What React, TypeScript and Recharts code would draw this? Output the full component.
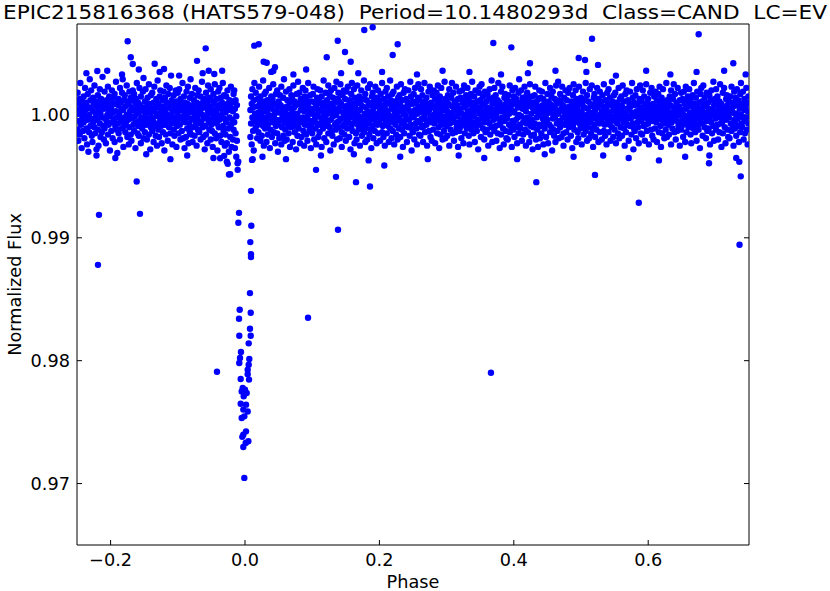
import { ScatterChart, Scatter, XAxis, YAxis, Label } from 'recharts';

// out-of-transit band: [phase, flux offset from 1 in ppt]
const bandA: [number, number][] = [
  [-.250,0.4],[-.249,-1.2],[-.249,1.8],[-.248,0.1],[-.248,-2.1],[-.247,0.9],[-.247,-0.5],[-.246,1.3],[-.246,-1.6],[-.245,0.2],[-.245,2.6],[-.244,-0.8],[-.243,0.6],[-.243,-2.7],[-.242,1.1],[-.242,-0.2],[-.241,-1.3],[-.241,0.7],
  [-.240,-0.6],[-.240,1.5],[-.239,0.3],[-.239,-1.9],[-.238,2.2],[-.238,-0.1],[-.237,0.8],[-.236,-1.1],[-.236,1.0],[-.235,-2.4],[-.235,0.5],[-.234,-0.4],[-.234,1.7],[-.233,-3.0],[-.232,0.0],[-.232,-1.4],[-.231,2.9],[-.231,0.6],
  [-.230,1.2],[-.230,-0.9],[-.229,-0.3],[-.229,2.0],[-.228,-1.7],[-.227,0.4],[-.227,-2.2],[-.226,1.4],[-.226,-0.6],[-.225,0.9],[-.224,-1.0],[-.224,2.4],[-.223,0.2],[-.223,-1.5],[-.222,-0.2],[-.221,1.1],[-.221,-2.8],[-.220,0.7],
  [-.220,-0.4],[-.219,1.6],[-.219,-1.2],[-.218,0.3],[-.218,-2.5],[-.217,0.9],[-.216,-0.7],[-.216,2.1],[-.215,-1.8],[-.215,0.1],[-.214,1.3],[-.213,-0.2],[-.213,-1.4],[-.212,0.6],[-.212,3.1],[-.211,-0.9],[-.211,1.0],[-.210,-2.0],
  [-.210,0.5],[-.209,-1.1],[-.209,1.9],[-.208,-0.3],[-.207,0.8],[-.207,-2.3],[-.206,1.2],[-.206,-0.5],[-.205,0.0],[-.204,2.3],[-.204,-1.6],[-.203,0.4],[-.203,-0.8],[-.202,1.5],[-.201,-2.9],[-.201,0.7],[-.200,-0.1],[-.200,1.1],
  [-.199,-1.3],[-.199,0.6],[-.198,2.0],[-.198,-0.6],[-.197,-1.9],[-.197,0.2],[-.196,1.4],[-.195,-0.4],[-.195,0.9],[-.194,-2.2],[-.194,1.7],[-.193,-0.9],[-.192,0.3],[-.192,2.7],[-.191,-1.2],[-.191,-0.2],[-.190,1.0],[-.190,-3.1],
  [-.189,0.8],[-.189,-0.7],[-.188,1.3],[-.188,-1.5],[-.187,0.1],[-.186,2.2],[-.186,-2.0],[-.185,-0.3],[-.185,1.0],[-.184,0.5],[-.183,-1.1],[-.183,1.8],[-.182,-0.5],[-.182,2.9],[-.181,-2.6],[-.181,0.4],[-.180,-0.9],[-.180,1.2],
  [-.179,-0.2],[-.179,1.6],[-.178,-1.4],[-.178,0.7],[-.177,-0.6],[-.176,2.4],[-.176,0.0],[-.175,-1.8],[-.175,1.1],[-.174,-0.4],[-.173,0.9],[-.173,-2.4],[-.172,1.9],[-.172,-1.0],[-.171,0.3],[-.171,-0.1],[-.170,1.4],[-.170,-1.6],
  [-.169,0.6],[-.169,-2.1],[-.168,1.2],[-.168,-0.3],[-.167,2.0],[-.166,-0.8],[-.166,0.4],[-.165,-1.3],[-.165,1.7],[-.164,-0.1],[-.163,-2.7],[-.163,0.9],[-.162,1.3],[-.162,-0.6],[-.161,0.1],[-.161,2.6],[-.160,-1.5],[-.160,0.5],
  [-.159,-0.9],[-.159,1.0],[-.158,-1.7],[-.158,0.2],[-.157,2.2],[-.156,-0.4],[-.156,0.8],[-.155,-2.3],[-.155,1.5],[-.154,-0.2],[-.153,0.6],[-.153,-1.1],[-.152,1.9],[-.152,-0.7],[-.151,3.0],[-.151,-1.9],[-.150,0.3],[-.150,-0.5],
  [-.149,1.1],[-.149,-1.4],[-.148,0.0],[-.148,2.1],[-.147,-0.8],[-.146,0.7],[-.146,-2.0],[-.145,1.4],[-.145,-0.3],[-.144,0.4],[-.143,-1.6],[-.143,2.5],[-.142,-0.6],[-.142,0.9],[-.141,-2.8],[-.141,0.2],[-.140,1.6],[-.140,-1.0],
  [-.139,0.5],[-.139,-0.2],[-.138,1.8],[-.138,-1.3],[-.137,-0.5],[-.136,1.0],[-.136,-2.2],[-.135,0.3],[-.135,2.3],[-.134,-0.9],[-.133,0.8],[-.133,-1.7],[-.132,1.3],[-.132,-0.1],[-.131,-2.5],[-.131,0.6],[-.130,2.8],[-.130,-0.7],
  [-.129,-1.2],[-.129,0.9],[-.128,0.1],[-.128,-1.8],[-.127,1.5],[-.126,-0.4],[-.126,2.0],[-.125,-0.9],[-.125,0.5],[-.124,-2.3],[-.123,1.2],[-.123,-0.2],[-.122,0.7],[-.122,-1.4],[-.121,1.9],[-.121,-0.6],[-.120,-2.9],[-.120,0.2],
  [-.119,1.4],[-.119,-0.8],[-.118,-1.6],[-.118,0.4],[-.117,2.4],[-.116,-0.3],[-.116,1.0],[-.115,-2.1],[-.115,0.0],[-.114,1.7],[-.113,-1.0],[-.113,0.6],[-.112,-0.5],[-.112,2.2],[-.111,-1.5],[-.111,0.8],[-.110,-0.1],[-.110,3.2],
  [-.109,-0.7],[-.109,1.2],[-.108,-2.4],[-.108,0.3],[-.107,0.9],[-.106,-1.2],[-.106,1.6],[-.105,-0.2],[-.105,-1.7],[-.104,0.5],[-.103,2.0],[-.103,-0.6],[-.102,1.1],[-.102,-2.6],[-.101,0.2],[-.101,-0.9],[-.100,1.8],[-.100,-0.4],
  [-.099,0.7],[-.099,-1.5],[-.098,2.1],[-.098,-0.1],[-.097,-0.8],[-.096,1.3],[-.096,-2.0],[-.095,0.4],[-.095,1.0],[-.094,-1.3],[-.093,-0.3],[-.093,2.6],[-.092,0.8],[-.092,-1.9],[-.091,1.5],[-.091,-0.5],[-.090,0.1],[-.090,-2.7],
  [-.089,1.0],[-.089,-0.6],[-.088,-1.8],[-.088,0.5],[-.087,1.9],[-.086,-0.2],[-.086,-1.1],[-.085,0.9],[-.085,2.3],[-.084,-2.3],[-.083,0.2],[-.083,-0.7],[-.082,1.4],[-.082,-1.4],[-.081,0.6],[-.081,2.9],[-.080,-0.3],[-.080,-1.6],
  [-.079,0.3],[-.079,1.7],[-.078,-1.0],[-.078,-2.2],[-.077,0.8],[-.076,-0.4],[-.076,1.2],[-.075,-1.7],[-.075,0.0],[-.074,2.2],[-.073,-0.8],[-.073,0.6],[-.072,-2.5],[-.072,1.0],[-.071,-0.2],[-.071,1.6],[-.070,-1.2],[-.070,0.4],
  [-.069,-0.5],[-.069,2.0],[-.068,0.9],[-.068,-1.4],[-.067,0.2],[-.066,-2.0],[-.066,1.5],[-.065,-0.7],[-.065,0.5],[-.064,2.7],[-.063,-1.0],[-.063,0.0],[-.062,1.1],[-.062,-1.8],[-.061,-0.3],[-.061,0.8],[-.060,-2.8],[-.060,1.3],
  [-.059,0.6],[-.059,-0.9],[-.058,1.8],[-.058,-1.6],[-.057,-0.1],[-.056,1.0],[-.056,-2.3],[-.055,0.3],[-.055,2.4],[-.054,-0.6],[-.053,1.4],[-.053,-1.2],[-.052,0.7],[-.052,-0.4],[-.051,2.1],[-.051,-2.0],[-.050,0.1],[-.050,-0.8],
  [-.049,1.2],[-.049,-1.3],[-.048,0.4],[-.048,-2.6],[-.047,1.7],[-.046,-0.2],[-.046,0.9],[-.045,-1.5],[-.045,2.5],[-.044,-0.5],[-.043,0.2],[-.043,-1.9],[-.042,1.3],[-.042,-0.7],[-.041,0.6],[-.041,-2.9],[-.040,1.9],[-.040,-0.1],
  [-.039,-1.0],[-.039,0.8],[-.038,2.2],[-.038,-0.4],[-.037,-1.7],[-.036,0.5],[-.036,1.4],[-.035,-2.2],[-.035,0.0],[-.034,1.0],[-.033,-0.9],[-.033,2.6],[-.032,-1.3],[-.032,0.3],[-.031,-0.3],[-.031,1.6],[-.030,-2.5],[-.030,0.7],
  [-.029,0.2],[-.029,-1.6],[-.028,1.5],[-.028,-0.6],[-.027,-2.3],[-.026,0.9],[-.026,2.0],[-.025,-1.1],[-.025,0.4],[-.024,-3.0],[-.023,1.2],[-.023,-0.2],[-.022,-1.8],[-.022,0.6],[-.021,2.3],[-.021,-0.8],[-.020,-2.6],[-.020,1.0],
  [-.019,-0.4],[-.019,1.1],[-.018,-2.0],[-.018,0.3],[-.017,1.7],[-.017,-1.2],[-.016,-0.6],[-.016,2.0],[-.015,-2.7],[-.015,0.5],[-.014,-1.5],[-.014,1.2],[-.013,-0.1],[-.013,-3.4],[-.012,0.8],[-.012,-2.1],
];

const bandB: [number, number][] = [
  [.008,-1.8],[.008,0.4],[.009,1.5],[.009,-0.7],[.010,-2.4],[.010,0.9],[.011,-0.2],[.011,2.1],[.012,-1.3],[.012,0.6],[.013,1.2],[.013,-2.9],[.014,-0.5],[.014,2.6],[.015,0.1],[.016,-1.0],[.016,1.8],[.017,-0.3],[.018,0.7],[.018,-1.9],[.019,1.3],[.019,-0.8],
  [.020,0.2],[.020,-1.4],[.021,2.3],[.021,-0.6],[.022,0.9],[.023,-2.1],[.023,1.5],[.024,-0.1],[.024,0.5],[.025,-1.7],[.026,1.1],[.026,-0.4],[.027,2.8],[.027,-0.9],[.028,0.3],[.028,-2.5],[.029,1.7],[.029,-0.2],
  [.030,-1.1],[.030,0.8],[.031,1.9],[.031,-0.5],[.032,-2.2],[.033,0.4],[.033,1.2],[.034,-0.8],[.034,-1.6],[.035,0.0],[.036,2.2],[.036,-0.3],[.037,1.0],[.037,-2.7],[.038,0.6],[.038,-1.2],[.039,1.5],[.039,-0.1],
  [.040,0.5],[.040,-1.8],[.041,1.3],[.041,-0.6],[.042,2.5],[.043,-0.2],[.043,-1.4],[.044,0.9],[.044,0.1],[.045,-2.3],[.046,1.7],[.046,-0.9],[.047,0.3],[.047,-0.4],[.048,2.0],[.048,-1.5],[.049,0.7],[.049,-3.0],
  [.050,1.1],[.050,-0.7],[.051,-1.9],[.051,0.2],[.052,1.6],[.053,-0.4],[.053,0.8],[.054,-2.4],[.054,2.3],[.055,-1.0],[.056,0.4],[.056,-0.1],[.057,1.4],[.057,-1.7],[.058,0.6],[.058,2.9],[.059,-0.6],[.059,-2.1],
  [.060,0.3],[.060,-1.2],[.061,1.9],[.061,-0.3],[.062,-2.0],[.063,0.7],[.063,1.2],[.064,-0.8],[.064,0.0],[.065,-1.5],[.066,2.1],[.066,-0.5],[.067,1.0],[.067,-2.6],[.068,0.5],[.068,-1.0],[.069,1.6],[.069,-0.2],
  [.070,-0.6],[.070,1.4],[.071,0.2],[.071,-2.2],[.072,2.4],[.073,-0.9],[.073,0.6],[.074,-1.4],[.074,1.1],[.075,-0.1],[.076,-2.8],[.076,0.8],[.077,1.7],[.077,-0.4],[.078,0.1],[.078,-1.7],[.079,2.7],[.079,-0.7],
  [.080,0.9],[.080,-1.1],[.081,-0.3],[.081,1.8],[.082,-2.3],[.083,0.4],[.083,1.3],[.084,-0.6],[.084,-1.8],[.085,0.7],[.086,2.2],[.086,-0.2],[.087,-1.3],[.087,1.0],[.088,0.3],[.088,-2.5],[.089,1.5],[.089,-0.8],
  [.090,-0.4],[.090,2.0],[.091,0.6],[.091,-1.6],[.092,1.2],[.093,-0.1],[.093,-2.1],[.094,0.9],[.094,2.6],[.095,-0.9],[.096,0.2],[.096,-1.3],[.097,1.6],[.097,-0.5],[.098,-2.7],[.098,0.5],[.099,1.1],[.099,-1.0],
  [.100,0.1],[.100,-1.5],[.101,1.7],[.101,-0.6],[.102,2.3],[.103,-2.0],[.103,0.5],[.104,-0.3],[.104,1.0],[.105,-1.1],[.106,0.8],[.106,-2.4],[.107,1.4],[.107,0.0],[.108,-0.7],[.108,2.1],[.109,-1.8],[.109,0.4],
  [.110,1.3],[.110,-0.8],[.111,-1.4],[.111,0.3],[.112,2.0],[.113,-0.2],[.113,0.9],[.114,-2.6],[.114,1.5],[.115,-0.5],[.116,0.6],[.116,-1.1],[.117,2.8],[.117,-0.1],[.118,-1.9],[.118,1.0],[.119,0.2],[.119,-0.9],
  [.120,-0.3],[.120,1.8],[.121,-2.2],[.121,0.7],[.122,1.2],[.123,-0.7],[.123,0.1],[.124,-1.5],[.124,2.4],[.125,0.4],[.126,-1.0],[.126,1.6],[.127,-2.9],[.127,0.9],[.128,-0.4],[.128,2.0],[.129,-1.3],[.129,0.2],
  [.130,0.8],[.130,-1.7],[.131,1.4],[.131,-0.1],[.132,-2.4],[.133,0.5],[.133,2.2],[.134,-0.8],[.134,1.0],[.135,-1.2],[.136,0.0],[.136,2.7],[.137,-0.6],[.137,-2.0],[.138,1.3],[.138,0.3],[.139,-1.0],[.139,1.8],
  [.140,-0.5],[.140,1.1],[.141,-1.9],[.141,0.6],[.142,2.5],[.143,-0.3],[.143,0.9],[.144,-1.4],[.144,-2.6],[.145,1.6],[.146,0.2],[.146,-0.9],[.147,2.0],[.147,-0.1],[.148,-1.6],[.148,0.7],[.149,1.3],[.149,-0.7],
  [.150,0.4],[.150,-2.1],[.151,1.9],[.151,-0.4],[.152,-1.1],[.153,0.8],[.153,2.3],[.154,-0.6],[.154,0.1],[.155,-1.8],[.156,1.2],[.156,-0.2],[.157,-2.8],[.157,0.6],[.158,1.7],[.158,-1.0],[.159,0.3],[.159,2.6],
  [.160,-1.3],[.160,0.9],[.161,0.0],[.161,-0.7],[.162,2.1],[.163,-2.3],[.163,1.4],[.164,-0.4],[.164,0.6],[.165,-1.5],[.166,1.0],[.166,-2.0],[.167,0.2],[.167,2.4],[.168,-0.8],[.168,1.2],[.169,-0.1],[.169,-1.2],
  [.170,1.5],[.170,-0.5],[.171,-2.5],[.171,0.4],[.172,0.9],[.173,-1.0],[.173,2.0],[.174,-0.2],[.174,-1.7],[.175,0.7],[.176,1.3],[.176,-0.6],[.177,2.8],[.177,-1.4],[.178,0.1],[.178,-0.9],[.179,1.7],[.179,-2.2],
  [.180,0.6],[.180,-1.1],[.181,1.2],[.181,-0.3],[.182,-2.0],[.183,2.2],[.183,0.3],[.184,-0.7],[.184,1.0],[.185,-1.6],[.186,0.0],[.186,2.5],[.187,-1.2],[.187,0.8],[.188,-0.4],[.188,-2.7],[.189,1.5],[.189,0.2],
  [.190,-0.9],[.190,1.8],[.191,0.5],[.191,-1.9],[.192,1.1],[.193,-0.2],[.193,-1.3],[.194,2.3],[.194,0.7],[.195,-0.5],[.196,1.4],[.196,-2.3],[.197,0.1],[.197,-0.8],[.198,2.0],[.198,-1.5],[.199,0.9],[.199,-0.1],
  [.200,1.2],[.200,-0.6],[.201,-2.1],[.201,0.4],[.202,1.7],[.203,-0.3],[.203,0.8],[.204,-1.4],[.204,2.6],[.205,-0.9],[.206,0.2],[.206,-1.8],[.207,1.3],[.207,-0.2],[.208,0.6],[.208,-2.5],[.209,1.9],[.209,-0.7],
  [.210,-0.4],[.210,1.0],[.211,-1.5],[.211,2.2],[.212,0.3],[.213,-0.9],[.213,1.5],[.214,-2.2],[.214,0.0],[.215,0.9],[.216,-1.1],[.216,2.8],[.217,-0.5],[.217,1.2],[.218,-1.9],[.218,0.5],[.219,-0.2],[.219,1.7],
  [.220,0.7],[.220,-1.3],[.221,1.9],[.221,-0.6],[.222,-2.4],[.223,0.2],[.223,1.1],[.224,-0.8],[.224,0.5],[.225,-1.6],[.226,2.3],[.226,-0.1],[.227,0.9],[.227,-2.0],[.228,1.4],[.228,-0.4],[.229,-1.1],[.229,0.3],
  [.230,1.6],[.230,-0.2],[.231,-1.8],[.231,0.8],[.232,2.5],[.233,-0.7],[.233,0.4],[.234,-1.2],[.234,1.2],[.235,-2.6],[.236,0.1],[.236,1.8],[.237,-0.5],[.237,-1.5],[.238,0.6],[.238,2.1],[.239,-0.9],[.239,0.0],
  [.240,-0.3],[.240,1.3],[.241,-2.2],[.241,0.5],[.242,1.0],[.243,-1.0],[.243,2.0],[.244,-0.4],[.244,0.8],[.245,-1.7],[.246,0.3],[.246,2.7],[.247,-0.8],[.247,1.5],[.248,-2.9],[.248,0.0],[.249,1.1],[.249,-1.2],
];

const bandC: [number, number][] = [
  [.250,0.9],[.250,-1.4],[.251,1.7],[.251,-0.2],[.252,-2.0],[.253,0.4],[.253,2.2],[.254,-0.7],[.254,1.0],[.255,-1.1],[.256,0.1],[.256,-2.4],[.257,1.4],[.257,-0.5],[.258,0.7],[.258,2.5],[.259,-1.6],[.259,0.2],
  [.260,-0.6],[.260,1.2],[.261,0.3],[.261,-1.7],[.262,2.1],[.263,-0.3],[.263,-1.0],[.264,0.8],[.264,1.6],[.265,-2.2],[.266,0.5],[.266,-0.9],[.267,2.6],[.267,0.0],[.268,-1.4],[.268,1.1],[.269,-0.4],[.269,0.6],
  [.270,1.4],[.270,-0.8],[.271,-2.5],[.271,0.2],[.272,0.9],[.273,-0.5],[.273,1.9],[.274,-1.3],[.274,0.4],[.275,2.3],[.276,-0.1],[.276,-1.8],[.277,1.0],[.277,-0.6],[.278,0.6],[.278,-2.1],[.279,1.6],[.279,-0.2],
  [.280,0.0],[.280,-1.2],[.281,2.0],[.281,0.7],[.282,-0.7],[.283,1.3],[.283,-2.3],[.284,0.3],[.284,-0.4],[.285,1.8],[.286,-1.5],[.286,0.9],[.287,-0.1],[.287,2.4],[.288,-1.0],[.288,0.5],[.289,-2.7],[.289,1.2],
  [.290,-0.5],[.290,1.5],[.291,0.1],[.291,-1.6],[.292,2.2],[.293,-0.8],[.293,0.8],[.294,-2.0],[.294,1.0],[.295,-0.2],[.296,0.4],[.296,-1.3],[.297,2.7],[.297,-0.6],[.298,1.3],[.298,-1.9],[.299,0.6],[.299,-0.1],
  [.300,1.1],[.300,-0.9],[.301,-1.7],[.301,0.3],[.302,1.6],[.303,-0.4],[.303,0.9],[.304,-2.5],[.304,2.1],[.305,-0.7],[.306,0.0],[.306,-1.2],[.307,1.4],[.307,-0.3],[.308,0.7],[.308,2.6],[.309,-1.5],[.309,0.2],
  [.310,-0.2],[.310,1.8],[.311,-2.1],[.311,0.6],[.312,1.1],[.313,-0.6],[.313,-1.4],[.314,0.4],[.314,2.3],[.315,-1.0],[.316,0.8],[.316,-0.1],[.317,-2.6],[.317,1.3],[.318,0.2],[.318,-0.8],[.319,1.9],[.319,-1.3],
  [.320,0.5],[.320,-1.0],[.321,1.4],[.321,-0.4],[.322,-1.9],[.323,2.0],[.323,0.1],[.324,-0.7],[.324,1.0],[.325,-2.3],[.326,0.6],[.326,2.4],[.327,-0.3],[.327,-1.5],[.328,1.2],[.328,0.0],[.329,-0.9],[.329,1.6],
  [.330,-1.1],[.330,0.8],[.331,2.2],[.331,-0.5],[.332,0.3],[.333,-1.7],[.333,1.3],[.334,-0.2],[.334,-2.4],[.335,0.9],[.336,1.7],[.336,-0.8],[.337,0.0],[.337,-1.2],[.338,2.7],[.338,0.5],[.339,-0.6],[.339,1.0],
  [.340,0.2],[.340,-1.5],[.341,1.5],[.341,-0.1],[.342,-2.2],[.343,0.7],[.343,2.0],[.344,-0.9],[.344,0.4],[.345,-1.3],[.346,1.1],[.346,-0.4],[.347,-2.8],[.347,0.6],[.348,1.8],[.348,-0.7],[.349,0.1],[.349,2.3],
  [.350,-0.8],[.350,1.2],[.351,-1.8],[.351,0.4],[.352,2.5],[.353,-0.3],[.353,0.8],[.354,-1.1],[.354,1.5],[.355,0.0],[.356,-2.0],[.356,0.9],[.357,1.9],[.357,-0.6],[.358,-1.4],[.358,0.3],[.359,1.1],[.359,-0.2],
  [.360,0.6],[.360,-1.2],[.361,1.7],[.361,-0.5],[.362,-2.5],[.363,0.2],[.363,1.3],[.364,-0.7],[.364,2.1],[.365,-1.6],[.366,0.5],[.366,-0.1],[.367,2.8],[.367,-1.0],[.368,0.9],[.368,-2.2],[.369,0.1],[.369,1.4],
  [.370,-0.4],[.370,1.0],[.371,-1.3],[.371,2.2],[.372,0.4],[.373,-0.9],[.373,1.6],[.374,-2.1],[.374,0.0],[.375,0.8],[.376,-1.5],[.376,1.2],[.377,-0.3],[.377,2.6],[.378,-0.8],[.378,0.6],[.379,-2.7],[.379,1.0],
  [.380,0.3],[.380,-0.7],[.381,1.9],[.381,-1.6],[.382,0.7],[.383,-0.2],[.383,2.3],[.384,-1.1],[.384,0.5],[.385,-2.4],[.386,1.4],[.386,-0.5],[.387,0.2],[.387,1.7],[.388,-1.3],[.388,0.9],[.389,-0.1],[.389,-1.9],
  [.390,1.2],[.390,-0.3],[.391,-2.0],[.391,0.6],[.392,1.6],[.393,-0.8],[.393,0.1],[.394,-1.4],[.394,2.4],[.395,0.4],[.396,-1.0],[.396,1.1],[.397,-2.6],[.397,0.8],[.398,-0.5],[.398,2.0],[.399,-1.2],[.399,0.3],
  [.400,-0.6],[.400,1.5],[.401,0.2],[.401,-1.8],[.402,2.2],[.403,-0.4],[.403,0.9],[.404,-1.0],[.404,1.3],[.405,-2.3],[.406,0.6],[.406,-0.2],[.407,1.8],[.407,-1.5],[.408,0.0],[.408,2.9],[.409,-0.8],[.409,0.7],
  [.410,1.0],[.410,-1.1],[.411,-0.1],[.411,2.0],[.412,-2.1],[.413,0.5],[.413,1.4],[.414,-0.6],[.414,-1.6],[.415,0.8],[.416,2.3],[.416,-0.3],[.417,-1.2],[.417,1.1],[.418,0.3],[.418,-2.5],[.419,1.6],[.419,-0.7],
  [.420,-0.2],[.420,1.8],[.421,0.7],[.421,-1.4],[.422,1.2],[.423,-0.5],[.423,-2.2],[.424,0.9],[.424,2.5],[.425,-0.9],[.426,0.1],[.426,-1.7],[.427,1.5],[.427,-0.4],[.428,-2.8],[.428,0.6],[.429,1.0],[.429,-1.0],
  [.430,0.4],[.430,-1.6],[.431,1.6],[.431,-0.7],[.432,2.3],[.433,-2.0],[.433,0.3],[.434,-0.2],[.434,1.1],[.435,-1.2],[.436,0.7],[.436,-2.6],[.437,1.3],[.437,0.0],[.438,-0.8],[.438,2.0],[.439,-1.9],[.439,0.5],
  [.440,1.4],[.440,-0.9],[.441,-1.5],[.441,0.2],[.442,1.9],[.443,-0.3],[.443,0.8],[.444,-2.4],[.444,1.3],[.445,-0.6],[.446,0.5],[.446,-1.1],[.447,2.6],[.447,-0.1],[.448,-1.8],[.448,1.0],[.449,0.1],[.449,-0.7],
  [.450,-0.4],[.450,1.7],[.451,-2.3],[.451,0.6],[.452,1.1],[.453,-0.8],[.453,0.2],[.454,-1.4],[.454,2.2],[.455,0.4],[.456,-1.0],[.456,1.5],[.457,-2.9],[.457,0.8],[.458,-0.3],[.458,1.9],[.459,-1.2],[.459,0.0],
  [.460,0.7],[.460,-1.7],[.461,1.3],[.461,-0.2],[.462,-2.2],[.463,0.4],[.463,2.4],[.464,-0.7],[.464,0.9],[.465,-1.3],[.466,0.1],[.466,2.7],[.467,-0.5],[.467,-1.9],[.468,1.2],[.468,0.3],[.469,-1.0],[.469,1.7],
  [.470,-0.6],[.470,1.0],[.471,-1.8],[.471,0.5],[.472,2.3],[.473,-0.2],[.473,0.8],[.474,-1.5],[.474,-2.5],[.475,1.4],[.476,0.2],[.476,-0.8],[.477,2.0],[.477,-0.1],[.478,-1.4],[.478,0.6],[.479,1.2],[.479,-0.5],
  [.480,0.3],[.480,-2.0],[.481,1.8],[.481,-0.4],[.482,-1.0],[.483,0.7],[.483,2.2],[.484,-0.6],[.484,0.0],[.485,-1.7],[.486,1.1],[.486,-0.3],[.487,-2.7],[.487,0.5],[.488,1.6],[.488,-0.9],[.489,0.2],[.489,2.5],
  [.490,-1.2],[.490,0.9],[.491,0.1],[.491,-0.6],[.492,2.0],[.493,-2.2],[.493,1.3],[.494,-0.3],[.494,0.5],[.495,-1.4],[.496,0.8],[.496,-1.9],[.497,0.2],[.497,2.3],[.498,-0.7],[.498,1.1],[.499,-0.1],[.499,-1.1],
];

const bandD: [number, number][] = [
  [.500,1.4],[.500,-0.4],[.501,-2.4],[.501,0.3],[.502,0.8],[.503,-0.9],[.503,1.9],[.504,-0.1],[.504,-1.6],[.505,0.6],[.506,1.2],[.506,-0.5],[.507,2.6],[.507,-1.3],[.508,0.0],[.508,-0.8],[.509,1.6],[.509,-2.1],
  [.510,0.5],[.510,-1.0],[.511,1.1],[.511,-0.2],[.512,-1.9],[.513,2.1],[.513,0.2],[.514,-0.6],[.514,0.9],[.515,-1.5],[.516,-0.1],[.516,2.4],[.517,-1.1],[.517,0.7],[.518,-0.3],[.518,-2.6],[.519,1.4],[.519,0.1],
  [.520,-0.8],[.520,1.7],[.521,0.4],[.521,-1.8],[.522,1.0],[.523,-0.3],[.523,-1.2],[.524,2.2],[.524,0.6],[.525,-0.4],[.526,1.3],[.526,-2.2],[.527,0.0],[.527,-0.7],[.528,1.9],[.528,-1.4],[.529,0.8],[.529,-0.2],
  [.530,1.1],[.530,-0.5],[.531,-2.0],[.531,0.3],[.532,1.6],[.533,-0.2],[.533,0.7],[.534,-1.3],[.534,2.5],[.535,-0.8],[.536,0.1],[.536,-1.7],[.537,1.2],[.537,-0.1],[.538,0.5],[.538,-2.4],[.539,1.8],[.539,-0.6],
  [.540,-0.3],[.540,0.9],[.541,-1.4],[.541,2.1],[.542,0.2],[.543,-0.8],[.543,1.4],[.544,-2.1],[.544,-0.1],[.545,0.8],[.546,-1.0],[.546,2.7],[.547,-0.4],[.547,1.1],[.548,-1.8],[.548,0.4],[.549,-0.1],[.549,1.6],
  [.550,0.6],[.550,-1.2],[.551,1.8],[.551,-0.5],[.552,-2.3],[.553,0.1],[.553,1.0],[.554,-0.7],[.554,0.4],[.555,-1.5],[.556,2.2],[.556,-0.2],[.557,0.8],[.557,-1.9],[.558,1.3],[.558,-0.3],[.559,-1.0],[.559,0.2],
  [.560,1.5],[.560,-0.1],[.561,-1.7],[.561,0.7],[.562,2.4],[.563,-0.6],[.563,0.3],[.564,-1.1],[.564,1.1],[.565,-2.5],[.566,0.0],[.566,1.7],[.567,-0.4],[.567,-1.4],[.568,0.5],[.568,2.0],[.569,-0.8],[.569,-0.1],
  [.570,-0.2],[.570,1.2],[.571,-2.1],[.571,0.4],[.572,0.9],[.573,-0.9],[.573,1.9],[.574,-0.3],[.574,0.7],[.575,-1.6],[.576,0.2],[.576,2.6],[.577,-0.7],[.577,1.4],[.578,-2.8],[.578,-0.1],[.579,1.0],[.579,-1.1],
  [.580,0.8],[.580,-1.3],[.581,1.6],[.581,-0.1],[.582,-1.9],[.583,0.3],[.583,2.1],[.584,-0.6],[.584,0.9],[.585,-1.0],[.586,0.0],[.586,-2.3],[.587,1.3],[.587,-0.4],[.588,0.6],[.588,2.4],[.589,-1.5],[.589,0.1],
  [.590,-0.5],[.590,1.1],[.591,0.2],[.591,-1.6],[.592,2.0],[.593,-0.2],[.593,-0.9],[.594,0.7],[.594,1.5],[.595,-2.1],[.596,0.4],[.596,-0.8],[.597,2.5],[.597,-0.1],[.598,-1.3],[.598,1.0],[.599,-0.3],[.599,0.5],
  [.600,1.3],[.600,-0.7],[.601,-2.4],[.601,0.1],[.602,0.8],[.603,-0.4],[.603,1.8],[.604,-1.2],[.604,0.3],[.605,2.2],[.606,0.0],[.606,-1.7],[.607,0.9],[.607,-0.5],[.608,0.5],[.608,-2.0],[.609,1.5],[.609,-0.1],
  [.610,0.1],[.610,-1.1],[.611,1.9],[.611,0.6],[.612,-0.6],[.613,1.2],[.613,-2.2],[.614,0.2],[.614,-0.3],[.615,1.7],[.616,-1.4],[.616,0.8],[.617,0.0],[.617,2.3],[.618,-0.9],[.618,0.4],[.619,-2.6],[.619,1.1],
  [.620,-0.4],[.620,1.4],[.621,0.2],[.621,-1.5],[.622,2.1],[.623,-0.7],[.623,0.7],[.624,-1.9],[.624,0.9],[.625,-0.1],[.626,0.3],[.626,-1.2],[.627,2.6],[.627,-0.5],[.628,1.2],[.628,-1.8],[.629,0.5],[.629,0.0],
  [.630,1.0],[.630,-0.8],[.631,-1.6],[.631,0.2],[.632,1.5],[.633,-0.3],[.633,0.8],[.634,-2.4],[.634,2.0],[.635,-0.6],[.636,0.1],[.636,-1.1],[.637,1.3],[.637,-0.2],[.638,0.6],[.638,2.5],[.639,-1.4],[.639,0.3],
  [.640,-0.1],[.640,1.7],[.641,-2.0],[.641,0.5],[.642,1.0],[.643,-0.5],[.643,-1.3],[.644,0.3],[.644,2.2],[.645,-0.9],[.646,0.7],[.646,0.0],[.647,-2.5],[.647,1.2],[.648,0.1],[.648,-0.7],[.649,1.8],[.649,-1.2],
  [.650,0.4],[.650,-0.9],[.651,1.3],[.651,-0.3],[.652,-1.8],[.653,1.9],[.653,0.0],[.654,-0.6],[.654,0.9],[.655,-2.2],[.656,0.5],[.656,2.3],[.657,-0.2],[.657,-1.4],[.658,1.1],[.658,-0.1],[.659,-0.8],[.659,1.5],
  [.660,-1.0],[.660,0.7],[.661,2.1],[.661,-0.4],[.662,0.2],[.663,-1.6],[.663,1.2],[.664,-0.1],[.664,-2.3],[.665,0.8],[.666,1.6],[.666,-0.7],[.667,-0.1],[.667,-1.1],[.668,2.6],[.668,0.4],[.669,-0.5],[.669,0.9],
  [.670,0.1],[.670,-1.4],[.671,1.4],[.671,0.0],[.672,-2.1],[.673,0.6],[.673,1.9],[.674,-0.8],[.674,0.3],[.675,-1.2],[.676,1.0],[.676,-0.3],[.677,-2.7],[.677,0.5],[.678,1.7],[.678,-0.6],[.679,0.0],[.679,2.2],
  [.680,-0.7],[.680,1.1],[.681,-1.7],[.681,0.3],[.682,2.4],[.683,-0.2],[.683,0.7],[.684,-1.0],[.684,1.4],[.685,-0.1],[.686,-1.9],[.686,0.8],[.687,1.8],[.687,-0.5],[.688,-1.3],[.688,0.2],[.689,1.0],[.689,-0.3],
  [.690,0.5],[.690,-1.1],[.691,1.6],[.691,-0.4],[.692,-2.4],[.693,0.1],[.693,1.2],[.694,-0.6],[.694,2.0],[.695,-1.5],[.696,0.4],[.696,0.0],[.697,2.7],[.697,-0.9],[.698,0.8],[.698,-2.1],[.699,0.0],[.699,1.3],
  [.700,-0.3],[.700,0.9],[.701,-1.2],[.701,2.1],[.702,0.3],[.703,-0.8],[.703,1.5],[.704,-2.0],[.704,0.1],[.705,0.7],[.706,-1.4],[.706,1.1],[.707,-0.2],[.707,2.5],[.708,-0.7],[.708,0.5],[.709,-2.6],[.709,0.9],
  [.710,0.2],[.710,-0.6],[.711,1.8],[.711,-1.5],[.712,0.6],[.713,-0.1],[.713,2.2],[.714,-1.0],[.714,0.4],[.715,-2.3],[.716,1.3],[.716,-0.4],[.717,0.1],[.717,1.6],[.718,-1.2],[.718,0.8],[.719,0.0],[.719,-1.8],
  [.720,1.1],[.720,-0.2],[.721,-1.9],[.721,0.5],[.722,1.5],[.723,-0.7],[.723,0.2],[.724,-1.3],[.724,2.3],[.725,0.3],[.726,-0.9],[.726,1.0],[.727,-2.5],[.727,0.7],[.728,-0.4],[.728,1.9],[.729,-1.1],[.729,0.1],
  [.730,-0.5],[.730,1.4],[.731,0.1],[.731,-1.7],[.732,2.1],[.733,-0.3],[.733,0.8],[.734,-0.9],[.734,1.2],[.735,-2.2],[.736,0.5],[.736,-0.1],[.737,1.7],[.737,-1.4],[.738,0.0],[.738,2.6],[.739,-0.7],[.739,0.6],
  [.740,0.9],[.740,-1.0],[.741,-0.2],[.741,1.9],[.742,-2.0],[.743,0.4],[.743,1.3],[.744,-0.5],[.744,-1.5],[.745,0.7],[.746,2.2],[.746,-0.2],[.747,-1.2],[.747,1.0],[.748,0.3],[.748,-2.4],[.749,1.5],[.749,-0.7],
];

// sparse edge of the band, ppt
const fringe: [number, number][] = [
  [-.236,3.4],[-.221,-3.3],[-.205,3.6],[-.193,-3.5],[-.183,3.3],[-.158,3.7],[-.147,-3.2],[-.127,3.5],[-.111,-3.6],[-.098,3.2],
  [-.086,-3.3],[-.063,3.4],[-.047,-3.5],[-.034,3.6],[-.027,-3.8],[.026,-3.4],[.039,3.5],[.061,-3.6],[.072,3.3],[.091,3.7],
  [.113,-3.3],[.143,3.4],[.162,-3.2],[.184,-3.7],[.204,3.5],[.231,-3.4],[.256,3.3],[.272,-3.6],[.294,3.6],[.318,-3.3],
  [.334,3.5],[.356,-3.5],[.381,3.3],[.405,-3.6],[.421,3.4],[.446,-3.2],[.462,3.6],[.489,-3.4],[.508,3.5],[.533,-3.3],
  [.552,3.2],[.571,-3.5],[.597,3.6],[.616,-3.7],[.633,3.3],[.655,-3.4],[.672,3.5],[.691,-3.3],[.713,3.6],[.731,-3.5],[.745,3.3],
];

// isolated points: [phase, flux]
const outliers: [number, number][] = [
  [-.1746,1.0060],[-.170,1.0047],[-.167,1.00415],[-.0585,1.00542],[-.0714,1.0044],[-.054,1.0036],[-.0457,1.00333],[-.1344,1.00417],
  [-.2198,1.00358],[-.1205,1.00374],[.0138,1.00564],[.0204,1.00575],[.0278,1.00433],[.0323,1.00425],[.0421,1.00358],[.0446,1.00388],
  [.138,1.00604],[.1488,1.00512],[.1573,1.00433],[.1216,1.0047],[.1775,1.00691],[.190,1.00713],[.2272,1.00575],[.2198,1.00488],
  [.3695,1.00585],[.3963,1.0055],[.5164,1.0062],[.6751,1.00656],[.7266,1.0042],[.4966,1.00463],[.506,1.00447],[.5253,1.00407],
  [.4241,1.0042],[.1686,1.0034],
  [-.2173,.99187],[-.2188,.98780],[-.1563,.99195],[-.1612,.99458],[.1384,.99065],[.0938,.98350],[.366,.97902],[.586,.99285],
  [.7359,.98943],[.1057,.99553],[.1354,.99496],[.1652,.99453],[.7377,.99500],[.7356,.99618],[.5208,.99512],[.4335,.99453],
  [.186,.99417],[.2073,.99588],[.6905,.99607],
];

// ingress / egress and transit
const transit: [number, number][] = [
  [-.037,.99648],[-.031,.99667],[-.0257,.99602],[-.0238,.99515],[-.022,.99518],[-.0110,.99607],[-.0109,.99553],[-.0100,.99620],
  [.0104,.99634],[.0115,.99640],[-.0417,.97910],
  [.0089,.99382],[-.0089,.99203],[-.0099,.99122],[.0094,.99098],[.0079,.98965],[.0089,.98867],[.0089,.98843],[.0074,.98550],
  [-.0079,.98415],[-.0089,.98341],[.0085,.98390],[.0074,.98260],[-.0085,.98203],[.0085,.98203],[.0055,.98141],
  [-.0060,.98071],[-.0074,.98022],[-.0085,.97981],[.0064,.98014],[.0055,.97967],[.0040,.97927],[.0040,.97890],[-.0064,.97851],
  [.0060,.97846],[-.0034,.97778],[.0000,.97764],[-.0049,.97750],[-.0019,.97710],[.0025,.97737],[-.0064,.97650],[.0015,.97642],
  [.0040,.97587],[-.0025,.97602],[-.0049,.97533],[-.0010,.97547],[.0015,.97425],[-.0025,.97398],[-.0040,.97380],[.0050,.97344],
  [.0010,.97331],[-.0025,.97298],[-.0010,.97046],
];

const xTicks = [-0.2, 0, 0.2, 0.4, 0.6];
const yTicks = [0.97, 0.98, 0.99, 1.0];
const title = 'EPIC215816368 (HATS579-048)  Period=10.1480293d  Class=CAND  LC=EV';

const points = [
  ...[...bandA, ...bandB, ...bandC, ...bandD, ...fringe].map(([p, d]) => ({ phase: p, flux: 1 + d / 1000 })),
  ...[...outliers, ...transit].map(([p, f]) => ({ phase: p, flux: f })),
];

const font = 'DejaVu Sans, Verdana, sans-serif';
const tickStyle = { fontSize: 17.7, fill: '#000', fontFamily: font };

const Dot = (props: any) => <circle cx={props.cx} cy={props.cy} r={3.2} fill="#0000ff" />;
const NoTick = () => <g />;

const fmtX = (v: number) => (v < 0 ? '\u2212' : '') + Math.abs(v).toFixed(1);

export default function App() {
  return (
    <div style={{ position: 'absolute', left: 0, top: 0, width: 830, height: 591, background: '#fff' }}>
      <ScatterChart width={830} height={591} margin={{ top: 23, right: 80, bottom: 0, left: 0 }}>
        <XAxis
          type="number"
          dataKey="phase"
          domain={[-0.25, 0.75]}
          ticks={xTicks}
          allowDataOverflow
          height={46}
          tickFormatter={fmtX}
          tick={tickStyle}
          tickSize={-5}
          tickMargin={13.4}
          axisLine={{ stroke: '#000' }}
          tickLine={{ stroke: '#000' }}
        >
          <Label
            content={(p: any) => {
              const vb = p.viewBox || { x: 77, y: 545, width: 672 };
              return (
                <text x={vb.x + vb.width / 2} y={vb.y + 43} textAnchor="middle" fontSize={17.7} fontFamily={font} fill="#000">
                  Phase
                </text>
              );
            }}
          />
        </XAxis>
        <XAxis
          xAxisId="top"
          orientation="top"
          type="number"
          domain={[-0.25, 0.75]}
          ticks={xTicks}
          allowDataOverflow
          height={1}
          tick={NoTick}
          tickSize={-5}
          axisLine={{ stroke: '#000' }}
          tickLine={{ stroke: '#000' }}
        />
        <YAxis
          type="number"
          dataKey="flux"
          domain={[0.965, 1.0074]}
          ticks={yTicks}
          allowDataOverflow
          width={77}
          tickFormatter={(v: number) => v.toFixed(2)}
          tick={tickStyle}
          tickSize={-5}
          tickMargin={12}
          axisLine={{ stroke: '#000' }}
          tickLine={{ stroke: '#000' }}
        >
          <Label
            content={(p: any) => {
              const vb = p.viewBox || { y: 24, height: 521 };
              const cy = vb.y + vb.height / 2;
              return (
                <text x={21} y={cy} transform={`rotate(-90 21 ${cy})`} textAnchor="middle" fontSize={17.7} fontFamily={font} fill="#000">
                  Normalized Flux
                </text>
              );
            }}
          />
        </YAxis>
        <YAxis
          yAxisId="right"
          orientation="right"
          type="number"
          domain={[0.965, 1.0074]}
          ticks={yTicks}
          allowDataOverflow
          width={1}
          tick={NoTick}
          tickSize={-5}
          axisLine={{ stroke: '#000' }}
          tickLine={{ stroke: '#000' }}
        />
        <Scatter data={points} shape={Dot} isAnimationActive={false} />
      </ScatterChart>
      <svg width={830} height={30} style={{ position: 'absolute', left: 0, top: 0 }}>
        <text
          x={415}
          y={19}
          textAnchor="middle"
          fontSize={20}
          fontFamily={font}
          fill="#000"
          textLength={824}
          lengthAdjust="spacingAndGlyphs"
          style={{ whiteSpace: 'pre' }}
        >
          {title}
        </text>
      </svg>
    </div>
  );
}
